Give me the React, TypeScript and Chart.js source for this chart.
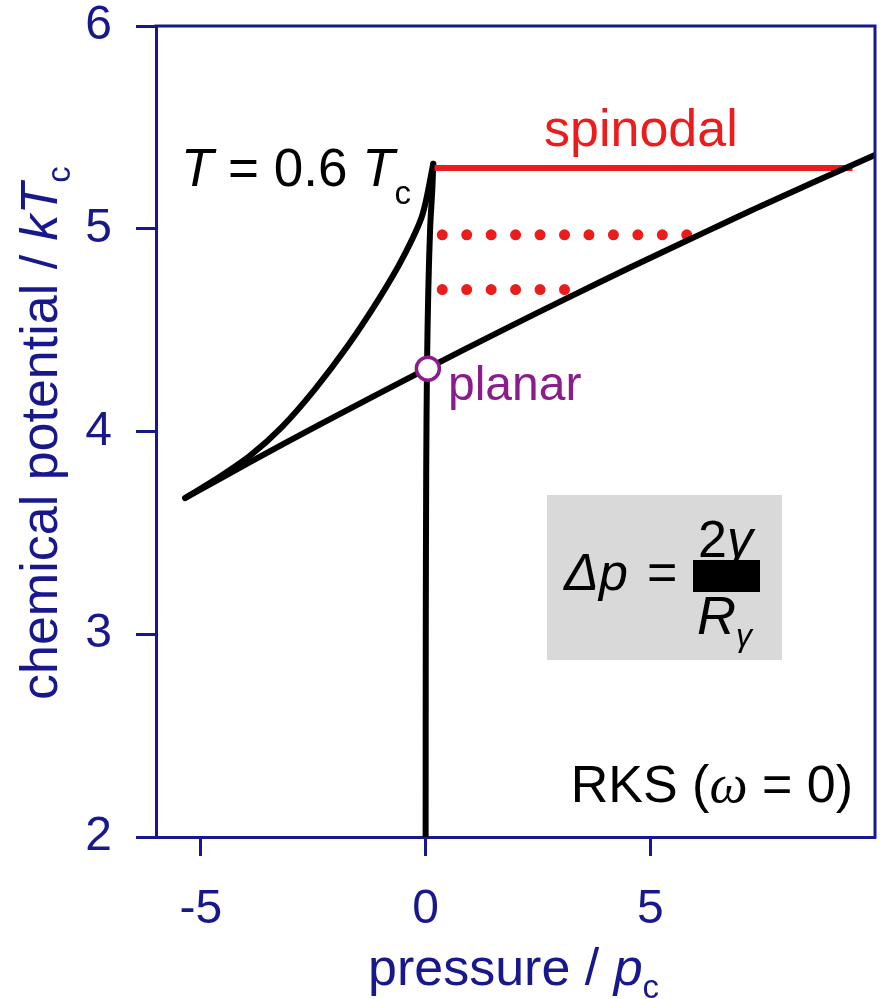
import React, { useEffect, useRef } from 'react';
import { Chart, registerables } from 'chart.js';

Chart.register(...registerables);

const NAVY = '#18188c';
const RED = '#ec1c1c';
const PURPLE = '#8b1c8b';
const FONT = '"Liberation Sans", Arial, sans-serif';

// axis ticks
const xTicks = [-5, 0, 5];
const yTicks = [2, 3, 4, 5, 6];

// gas (vapour) branch: pressure / pc, chemical potential / kTc
const gasP = [0.0, 0.003, 0.013, 0.03, 0.06, 0.1, 0.15, 0.17];
const gasMu = [2.0, 3.0, 3.8, 4.31, 4.7, 5.0, 5.2, 5.32];

// unstable branch (cusp to cusp)
const unstableP = [0.17, -0.08, -0.52, -1.04, -1.74, -2.47, -3.2, -3.9, -4.6, -5.35];
const unstableMu = [5.32, 5.063, 4.851, 4.654, 4.42, 4.207, 4.022, 3.882, 3.774, 3.672];

// liquid branch
const liquidP = [-5.35, -3.91, -2.35, 0.05, 1.66, 3.15, 4.55, 5.89, 7.44, 10.0];
const liquidMu = [3.672, 3.849, 4.035, 4.313, 4.494, 4.658, 4.809, 4.949, 5.11, 5.364];

// spinodal (red solid)
const spinodalP = [0.2, 9.5];
const spinodalMu = [5.3, 5.3];

// red dotted levels
const dot1P = [0.37, 5.84];
const dot1Mu = [4.97, 4.97];
const dot2P = [0.37, 3.12];
const dot2Mu = [4.7, 4.7];

// planar coexistence point
const planarP = [0.05];
const planarMu = [4.31];

const pts = (xs: number[], ys: number[]) => xs.map((x, i) => ({ x, y: ys[i] }));

type Run = { t: string; font: string; color: string; dy?: number };

function drawRuns(ctx: CanvasRenderingContext2D, x: number, y: number, items: Run[], align: 'left' | 'right' | 'center' = 'left') {
  let w = 0;
  for (const it of items) {
    ctx.font = it.font;
    w += ctx.measureText(it.t).width;
  }
  let cx = align === 'right' ? x - w : align === 'center' ? x - w / 2 : x;
  ctx.textAlign = 'left';
  ctx.textBaseline = 'alphabetic';
  for (const it of items) {
    ctx.font = it.font;
    ctx.fillStyle = it.color;
    ctx.fillText(it.t, cx, y + (it.dy || 0));
    cx += ctx.measureText(it.t).width;
  }
}

const f = (size: number, style = '') => `${style} ${size}px ${FONT}`.trim();

const decoPlugin = {
  id: 'deco',
  afterDatasetsDraw(chart: any) {
    const { ctx, chartArea: a } = chart;
    ctx.save();
    // top & right frame
    ctx.strokeStyle = NAVY;
    ctx.lineWidth = 3;
    ctx.beginPath();
    ctx.moveTo(a.left - 1.5, a.top);
    ctx.lineTo(a.right, a.top);
    ctx.lineTo(a.right, a.bottom + 1.5);
    ctx.stroke();

    // labels
    drawRuns(ctx, 181, 186, [
      { t: 'T', font: f(53, 'italic'), color: '#000' },
      { t: ' = 0.6 ', font: f(53), color: '#000' },
      { t: 'T', font: f(53, 'italic'), color: '#000' },
      { t: 'c', font: f(33), color: '#000', dy: 18 },
    ]);
    drawRuns(ctx, 544, 146, [{ t: 'spinodal', font: f(52), color: RED }]);
    drawRuns(ctx, 448, 400, [{ t: 'planar', font: f(48), color: PURPLE }]);
    drawRuns(ctx, 853, 802, [
      { t: 'RKS (', font: f(52), color: '#000' },
      { t: 'ω', font: `italic 54px "Liberation Serif", serif`, color: '#000' },
      { t: ' = 0)', font: f(52), color: '#000' },
    ], 'right');

    // formula box
    ctx.fillStyle = '#d9d9d9';
    ctx.fillRect(547, 495, 235, 165);
    drawRuns(ctx, 564, 590, [{ t: 'Δp', font: f(52, 'italic'), color: '#000' }]);
    drawRuns(ctx, 647, 590, [{ t: '=', font: f(52), color: '#000' }]);
    ctx.fillStyle = '#000';
    ctx.fillRect(693, 560, 67, 32);
    drawRuns(ctx, 698, 557, [
      { t: '2', font: f(52), color: '#000' },
      { t: 'γ', font: f(52, 'italic'), color: '#000' },
    ]);
    drawRuns(ctx, 697, 634, [
      { t: 'R', font: f(54, 'italic'), color: '#000' },
      { t: 'γ', font: f(32, 'italic'), color: '#000', dy: 12 },
    ]);

    // axis titles
    drawRuns(ctx, 368, 985, [
      { t: 'pressure / ', font: f(52), color: NAVY },
      { t: 'p', font: f(52, 'italic'), color: NAVY },
      { t: 'c', font: f(33), color: NAVY, dy: 13 },
    ]);
    ctx.save();
    ctx.translate(57, 700);
    ctx.rotate(-Math.PI / 2);
    drawRuns(ctx, 0, 0, [
      { t: 'chemical potential / ', font: f(52), color: NAVY },
      { t: 'kT', font: f(52, 'italic'), color: NAVY },
      { t: 'c', font: f(33), color: NAVY, dy: 13 },
    ]);
    ctx.restore();
    ctx.restore();
  },
};

export default function App() {
  const ref = useRef<HTMLCanvasElement | null>(null);
  useEffect(() => {
    if (!ref.current) return;
    const line = (data: any, color: string, width: number, extra: any = {}) => ({
      type: 'line',
      data,
      borderColor: color,
      backgroundColor: color,
      borderWidth: width,
      pointRadius: 0,
      fill: false,
      showLine: true,
      tension: 0,
      borderCapStyle: 'round',
      borderJoinStyle: 'round',
      ...extra,
    });
    const zeroPad = (s: any) => {
      s.paddingTop = 0;
      s.paddingBottom = 0;
      s.paddingLeft = 0;
      s.paddingRight = 0;
    };
    const chart = new Chart(ref.current, {
      type: 'scatter',
      data: {
        datasets: [
          {
            type: 'scatter',
            data: pts(planarP, planarMu),
            pointRadius: 11.5,
            pointBorderWidth: 3.5,
            pointBorderColor: PURPLE,
            pointBackgroundColor: '#ffffff',
            showLine: false,
          } as any,
          line(pts(liquidP, liquidMu), '#000', 6, { tension: 0.3 }),
          line(pts(spinodalP, spinodalMu), RED, 6, { borderCapStyle: 'butt' }),
          line(pts(gasP, gasMu), '#000', 6, { tension: 0.3 }),
          line(pts(unstableP, unstableMu), '#000', 6, { tension: 0.3 }),
          line(pts(dot1P, dot1Mu), RED, 11, { borderDash: [0, 24.45], borderCapStyle: 'round' }),
          line(pts(dot2P, dot2Mu), RED, 11, { borderDash: [0, 24.45], borderCapStyle: 'round' }),
        ],
      },
      options: {
        responsive: false,
        animation: false,
        devicePixelRatio: 1,
        layout: { autoPadding: false, padding: { top: 26, right: 7, left: 0, bottom: 0 } },
        plugins: { legend: { display: false }, tooltip: { enabled: false } },
        scales: {
          x: {
            type: 'linear',
            position: 'bottom',
            min: -6,
            max: 10,
            afterBuildTicks: (s: any) => { s.ticks = xTicks.map((v) => ({ value: v })); },
            afterFit: (s: any) => { s.height = 162; zeroPad(s); },
            ticks: {
              autoSkip: false,
              maxRotation: 0,
              color: NAVY,
              padding: 30,
              font: { family: FONT, size: 48, lineHeight: 1 },
            },
            grid: { drawOnChartArea: false, drawTicks: true, tickLength: 19, tickWidth: 3, tickColor: NAVY },
            border: { display: true, color: NAVY, width: 3 },
          },
          y: {
            type: 'linear',
            min: 2,
            max: 6,
            afterBuildTicks: (s: any) => { s.ticks = yTicks.map((v) => ({ value: v })); },
            afterFit: (s: any) => { s.width = 156; zeroPad(s); },
            ticks: {
              autoSkip: false,
              color: NAVY,
              padding: 24,
              font: { family: FONT, size: 48, lineHeight: 1 },
            },
            grid: { drawOnChartArea: false, drawTicks: true, tickLength: 20, tickWidth: 3, tickColor: NAVY },
            border: { display: true, color: NAVY, width: 3 },
          },
        },
      } as any,
      plugins: [decoPlugin],
    } as any);
    return () => chart.destroy();
  }, []);
  return (
    <div style={{ position: 'absolute', left: 0, top: 0, width: 882, height: 999, background: '#fff' }}>
      <canvas ref={ref} width={882} height={999} style={{ width: 882, height: 999, display: 'block' }} />
    </div>
  );
}
